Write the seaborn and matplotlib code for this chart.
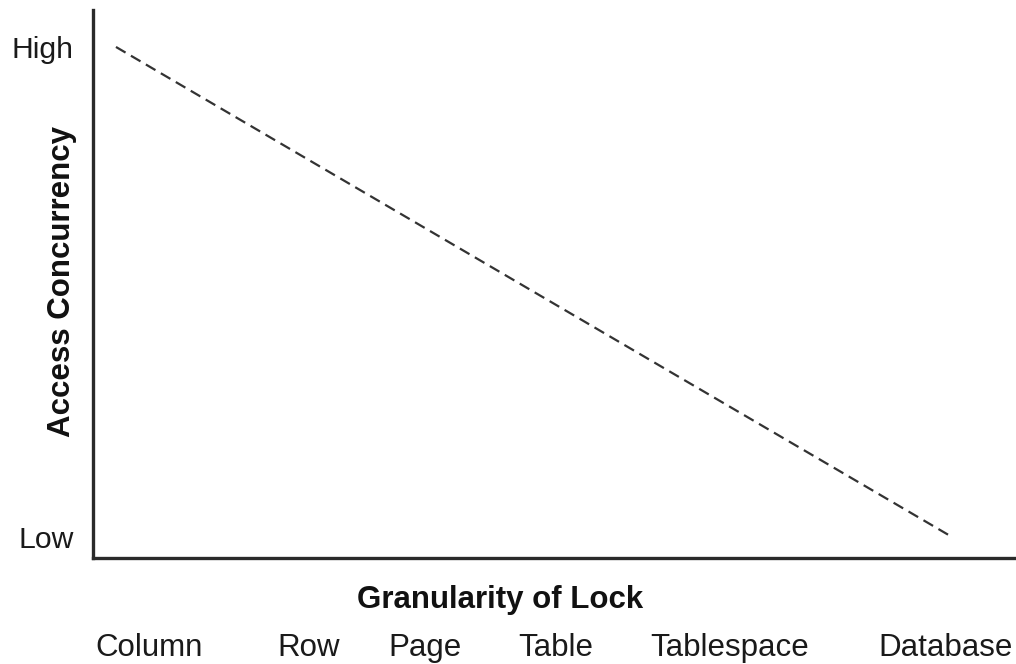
import matplotlib
matplotlib.use("Agg")
import matplotlib.pyplot as plt
import seaborn as sns
import pandas as pd

# Lock granularity levels, finest to coarsest
granularity = ["Column", "Row", "Page", "Table", "Tablespace", "Database"]
# Concurrency falls from high (finest lock) to low (coarsest lock)
line_x = [0.0, 5.0]
concurrency = [1.0, 0.0]
level_ticks = [0.0, 1.0]
level_labels = ["Low", "High"]

# Horizontal placement of the granularity names beneath the axis title
name_x = [0.2, 1.15, 1.85, 2.63, 3.67, 4.96]

sns.set_style("white")
plt.rcParams["font.family"] = ["Liberation Sans", "DejaVu Sans"]

fig = plt.figure(figsize=(10.16, 6.64), dpi=100)
ax = fig.add_axes([0.0915, 0.1596, 0.9085, 0.8254])

df = pd.DataFrame({"granularity": line_x, "concurrency": concurrency})
sns.lineplot(data=df, x="granularity", y="concurrency", ax=ax,
             color="#333333", linewidth=1.6, linestyle=(0, (5, 2.8)))

ax.set_xlim(-0.1376, 5.383)
ax.set_ylim(-0.043, 1.0755)

ax.set_yticks(level_ticks)
ax.set_yticklabels(level_labels, fontsize=21.7, color="#1a1a1a")
ax.set_xticks(name_x)
ax.set_xticklabels(granularity, fontsize=22.5, color="#1a1a1a")
ax.tick_params(axis="x", length=0, pad=54)
ax.tick_params(axis="y", length=0, pad=14)

ax.set_xlabel("Granularity of Lock", fontsize=22.5, fontweight="bold", color="#111111")
ax.xaxis.set_label_coords(0.441, -0.0766)
ax.xaxis.label.set_verticalalignment("center")
ax.set_ylabel("Access Concurrency", fontsize=22.5, fontweight="bold", color="#111111")
ax.yaxis.set_label_coords(-0.034, 0.505)
ax.yaxis.label.set_verticalalignment("center")

for side in ("top", "right"):
    ax.spines[side].set_visible(False)
for side in ("left", "bottom"):
    ax.spines[side].set_linewidth(2.4)
    ax.spines[side].set_color("#2a2a2a")

fig.savefig("out.png", dpi=100)
